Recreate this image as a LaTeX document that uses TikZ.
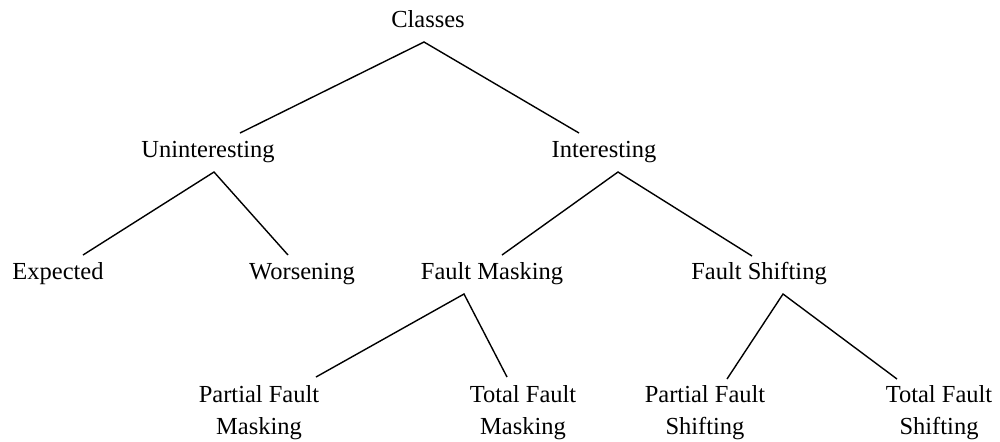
\documentclass[tikz,border=0pt]{standalone}
\usepackage{fontspec}
\setmainfont{Liberation Serif}
\begin{document}
\begin{tikzpicture}[x=0.5pt,y=-0.5pt,
  lbl/.style={inner sep=0pt,anchor=base,align=center,font=\fontsize{12.25}{16}\selectfont},
  edge/.style={line width=0.7pt,line cap=butt}]
\useasboundingbox (0,0) rectangle (1000,441);
% nodes
\node[lbl] (cls)   at (428,27)  {Classes};
\node[lbl] (unint) at (208,157) {Uninteresting};
\node[lbl] (int)   at (604,157) {Interesting};
\node[lbl] (exp)   at (58,279)  {Expected};
\node[lbl] (wors)  at (302,279) {Worsening};
\node[lbl] (fm)    at (492,279) {Fault Masking};
\node[lbl] (fs)    at (759,279) {Fault Shifting};
% two-line labels: base anchor is the baseline of the last line
\node[lbl] (pfm)   at (259,434) {Partial Fault\\Masking};
\node[lbl] (tfm)   at (523,434) {Total Fault\\Masking};
\node[lbl] (pfs)   at (705,434) {Partial Fault\\Shifting};
\node[lbl] (tfs)   at (939,434) {Total Fault\\Shifting};
% connection points
\coordinate (cls-o)   at (424,42);
\coordinate (unint-i) at (240,133);
\coordinate (int-i)   at (579,133);
\coordinate (unint-o) at (214,172);
\coordinate (exp-i)   at (83,255);
\coordinate (wors-i)  at (288,255);
\coordinate (int-o)   at (618,172);
\coordinate (fm-i)    at (502,255);
\coordinate (fs-i)    at (752,256);
\coordinate (fm-o)    at (464,294);
\coordinate (pfm-i)   at (316,377);
\coordinate (tfm-i)   at (507,377);
\coordinate (fs-o)    at (783,294);
\coordinate (pfs-i)   at (727,379);
\coordinate (tfs-i)   at (897,379);
% connectors
\draw[edge] (unint-i) -- (cls-o) -- (int-i);
\draw[edge] (exp-i) -- (unint-o) -- (wors-i);
\draw[edge] (fm-i) -- (int-o) -- (fs-i);
\draw[edge] (pfm-i) -- (fm-o) -- (tfm-i);
\draw[edge] (pfs-i) -- (fs-o) -- (tfs-i);
\end{tikzpicture}
\end{document}
